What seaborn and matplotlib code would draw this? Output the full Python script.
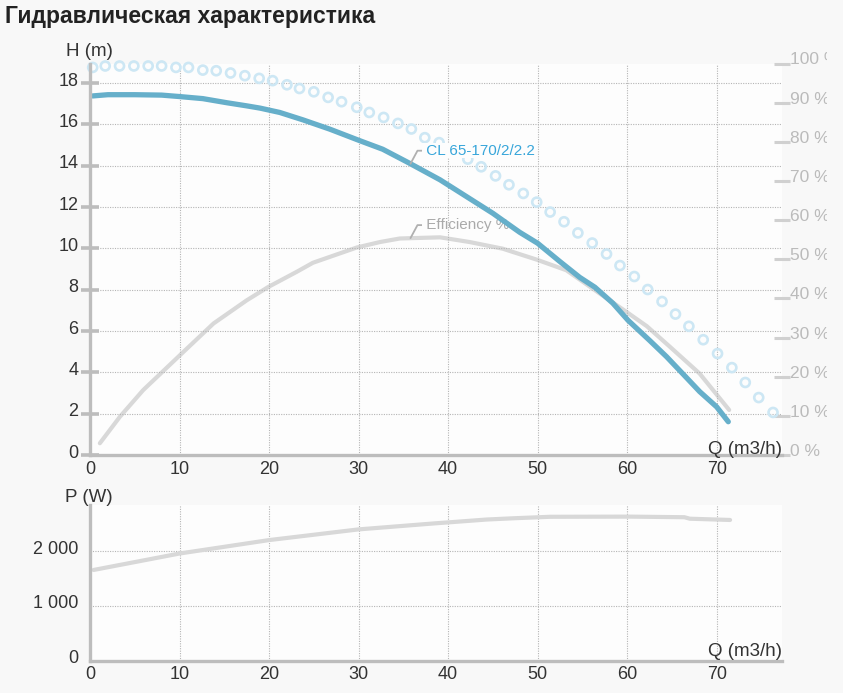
import matplotlib
matplotlib.use("Agg")
import matplotlib.pyplot as plt
import matplotlib.transforms as mtransforms
import seaborn as sns
import pandas as pd

# ---------------- data ----------------
h_q = [0.3, 2, 5, 8, 10, 12.6, 15.3, 17.5, 19.0, 21.2, 23.8, 26.8, 30.1,
       32.7, 35.7, 39.1, 42.05, 45.0, 48.0, 50.0, 52.5, 54.7, 56.4, 58.4,
       60.1, 62.5, 64.4, 66.2, 68.1, 70.0, 71.3]
h_m = [17.38, 17.44, 17.44, 17.42, 17.35, 17.25, 17.05, 16.9, 16.79, 16.58,
       16.22, 15.77, 15.22, 14.80, 14.12, 13.32, 12.51, 11.70, 10.78, 10.25,
       9.36, 8.6, 8.12, 7.35, 6.52, 5.55, 4.76, 3.94, 3.07, 2.33, 1.61]

max_q = [0.3, 1.7, 3.3, 4.9, 6.5, 8.0, 9.6, 11.0, 12.6, 14.1, 15.7, 17.3,
         18.9, 20.4, 22.0, 23.4, 25.0, 26.6, 28.1, 29.8, 31.2, 32.8, 34.4,
         35.9, 37.4, 39.0, 40.6, 42.2, 43.7, 45.3, 46.8, 48.4, 49.9, 51.4,
         52.95, 54.5, 56.1, 57.7, 59.2, 60.8, 62.3, 63.9, 65.4, 66.9, 68.5,
         70.1, 71.7, 73.2, 74.7, 76.3]
max_m = [18.76, 18.83, 18.83, 18.83, 18.83, 18.83, 18.76, 18.76, 18.63, 18.6,
         18.49, 18.36, 18.23, 18.12, 17.92, 17.74, 17.58, 17.31, 17.1, 16.83,
         16.58, 16.34, 16.05, 15.78, 15.36, 15.12, 14.72, 14.32, 13.95, 13.51,
         13.08, 12.66, 12.24, 11.76, 11.29, 10.75, 10.26, 9.73, 9.17, 8.64,
         8.01, 7.43, 6.82, 6.23, 5.58, 4.91, 4.23, 3.51, 2.78, 2.06]

eff_q = [1.1, 3.35, 5.95, 10.05, 13.8, 17.5, 19.9, 23.1, 24.9, 29.8, 32.4,
         34.6, 39.1, 42.4, 46.1, 49.9, 53.2, 56.9, 59.9, 62.2, 64.8, 68.1, 71.4]
eff_pct = [3.0, 9.8, 16.6, 25.5, 33.6, 39.5, 42.9, 46.8, 49.1, 53.0, 54.4,
           55.3, 55.6, 54.4, 52.7, 49.9, 47.2, 41.3, 36.6, 32.9, 27.6, 20.8, 11.5]

p_q = [0.4, 10, 20, 30, 38.5, 40.2, 44.3, 47.3, 51.4, 60.3, 66.4, 67.0, 71.5]
p_w = [1655, 1955, 2200, 2395, 2505, 2525, 2575, 2598, 2625, 2628, 2617,
       2590, 2567]

x_ticks = [0, 10, 20, 30, 40, 50, 60, 70]
h_ticks = [0, 2, 4, 6, 8, 10, 12, 14, 16, 18]
pct_ticks = [0, 10, 20, 30, 40, 50, 60, 70, 80, 90, 100]
p_ticks = [0, 1000, 2000]
p_tick_labels = ["0", "1 000", "2 000"]

title = "Гидравлическая характеристика"
pump_name = "CL 65-170/2/2.2"
eff_name = "Efficiency %"

# ---------------- styling ----------------
sns.set_theme(style="white")
plt.rcParams["font.family"] = ["Liberation Sans", "DejaVu Sans"]

BG = "#f8f8f8"
PLOT_BG = "#fdfdfd"
AXIS_GRAY = "#bdbdbd"
GRID = "#b5b5b5"
TEXT = "#333333"
H_COLOR = "#66afca"
MAX_COLOR = "#cde7f4"
GRAY_LINE = "#d8d8d8"
LABEL_BLUE = "#38a6da"
RIGHT_LABEL = "#bbbbbb"

W, H = 843, 693
fig = plt.figure(figsize=(W / 100, H / 100), dpi=100, facecolor=BG)

def frac_rect(left, top, right, bottom):
    return [left / W, 1 - bottom / H, (right - left) / W, (bottom - top) / H]

ax1 = fig.add_axes(frac_rect(90, 63.5, 782, 455))
ax2 = ax1.twinx()
ax3 = fig.add_axes(frac_rect(90, 505, 782, 660.7))

XMAX = 77.3

def style_axes(ax):
    ax.set_facecolor(PLOT_BG)
    for s in ["top", "right"]:
        ax.spines[s].set_visible(False)
    for s in ["left", "bottom"]:
        ax.spines[s].set_color(AXIS_GRAY)
        ax.spines[s].set_linewidth(2.4)
        ax.spines[s].set_zorder(5)
    ax.set_xlim(0, XMAX)
    ax.set_xticks(x_ticks)
    ax.tick_params(axis="x", direction="inout", length=7, width=1.6,
                   color="#222222", labelsize=13, labelcolor=TEXT, pad=0.5)
    ax.tick_params(axis="y", direction="inout", length=12.5, width=2.6,
                   color=AXIS_GRAY, labelsize=13, labelcolor=TEXT, pad=2)
    ax.grid(True, color=GRID, linestyle=(0, (1, 1.2)), linewidth=0.8)
    ax.set_axisbelow(True)
    ax.set_xlabel("")
    ax.set_ylabel("")

def shift_labels(labels, dy_px, dx_px=0):
    off = mtransforms.ScaledTranslation(dx_px / 100, dy_px / 100,
                                        fig.dpi_scale_trans)
    for lab in labels:
        lab.set_transform(lab.get_transform() + off)

# ---------------- top chart ----------------
style_axes(ax1)
ax1.set_ylim(0, 18.95)
ax1.set_yticks(h_ticks)
ax1.set_yticklabels([str(v) for v in h_ticks])

df_h = pd.DataFrame({"Q": h_q, "H": h_m})
df_max = pd.DataFrame({"Q": max_q, "H": max_m})
df_eff = pd.DataFrame({"Q": eff_q, "E": eff_pct})

sns.scatterplot(data=df_max, x="Q", y="H", ax=ax1, marker="o", s=42,
                facecolor="none", edgecolor=MAX_COLOR, linewidth=1.9,
                clip_on=False, zorder=2, legend=False)

ax2.set_ylim(0, 99.8)
ax2.set_zorder(ax1.get_zorder() - 1)
ax1.patch.set_visible(False)
ax2.patch.set_visible(True)
ax2.patch.set_facecolor(PLOT_BG)
for s in ax2.spines.values():
    s.set_visible(False)
sns.lineplot(data=df_eff, x="Q", y="E", ax=ax2, color=GRAY_LINE,
             linewidth=3.0, sort=False, estimator=None, zorder=3)
ax2.set_xlabel("")
ax2.set_ylabel("")
ax2.set_yticks(pct_ticks)
ax2.set_yticklabels([f"{v} %" for v in pct_ticks])
ax2.tick_params(axis="y", direction="inout", length=11, width=2.2,
                color="#d0d0d0", labelsize=12.5, labelcolor=RIGHT_LABEL, pad=0.3)
ax2.tick_params(axis="x", bottom=False, labelbottom=False)
ax2.grid(False)

sns.lineplot(data=df_h, x="Q", y="H", ax=ax1, color=H_COLOR, linewidth=3.8,
             sort=False, estimator=None, zorder=4)
ax1.set_xlabel("")
ax1.set_ylabel("")

shift_labels(ax1.get_yticklabels(), 4)
shift_labels(ax2.get_yticklabels(), 5)

# right labels are clipped by the chart container at x ~ 827 px
clip_bbox = mtransforms.TransformedBbox(
    mtransforms.Bbox([[0, 0], [827 / W, 1]]), fig.transFigure)
for lab in ax2.get_yticklabels():
    lab.set_clip_on(True)
    lab.set_clip_box(clip_bbox)

# series labels with leader lines
def series_label(ax, x0, y0, text, tcolor):
    p0 = ax.transData.transform((x0, y0))
    p1 = (p0[0] + 7, p0[1] + 13)
    p2 = (p1[0] + 5, p1[1])
    pts = ax.transData.inverted().transform([p0, p1, p2])
    ax.plot(pts[:, 0], pts[:, 1], color="#b0b0b0", linewidth=1.3, zorder=6)
    ax.text(pts[2, 0], pts[2, 1], " " + text, color=tcolor, fontsize=11,
            va="center", ha="left", zorder=7,
            bbox=dict(facecolor=PLOT_BG, edgecolor="none", pad=0.5))

series_label(ax1, 35.8, 14.1, pump_name, LABEL_BLUE)
series_label(ax2, 35.8, 55.4, eff_name, "#aaaaaa")

fig.text(66 / W, 1 - 52 / H, "H (m)", fontsize=13.5, color=TEXT,
         va="center", ha="left")
fig.text(782 / W, 1 - 449 / H, "Q (m3/h)", fontsize=13.5, color=TEXT,
         va="center", ha="right", zorder=10)

# ---------------- bottom chart ----------------
style_axes(ax3)
df_p = pd.DataFrame({"Q": p_q, "P": p_w})
sns.lineplot(data=df_p, x="Q", y="P", ax=ax3, color=GRAY_LINE, linewidth=3.0,
             sort=False, estimator=None, zorder=3)
ax3.set_xlabel("")
ax3.set_ylabel("")
ax3.set_ylim(0, 2840)
ax3.set_yticks(p_ticks)
ax3.set_yticklabels(p_tick_labels)
shift_labels(ax3.get_yticklabels(), 4)

fig.text(65 / W, 1 - 498 / H, "P (W)", fontsize=13.5, color=TEXT,
         va="center", ha="left")
fig.text(782 / W, 1 - 652 / H, "Q (m3/h)", fontsize=13.5, color=TEXT,
         va="center", ha="right", zorder=10)

# ---------------- title ----------------
fig.text(5 / W, 1 - 17 / H, title, fontsize=16.5, fontweight="bold",
         color="#222222", va="center", ha="left")

fig.savefig("out.png", dpi=100, facecolor=BG)
